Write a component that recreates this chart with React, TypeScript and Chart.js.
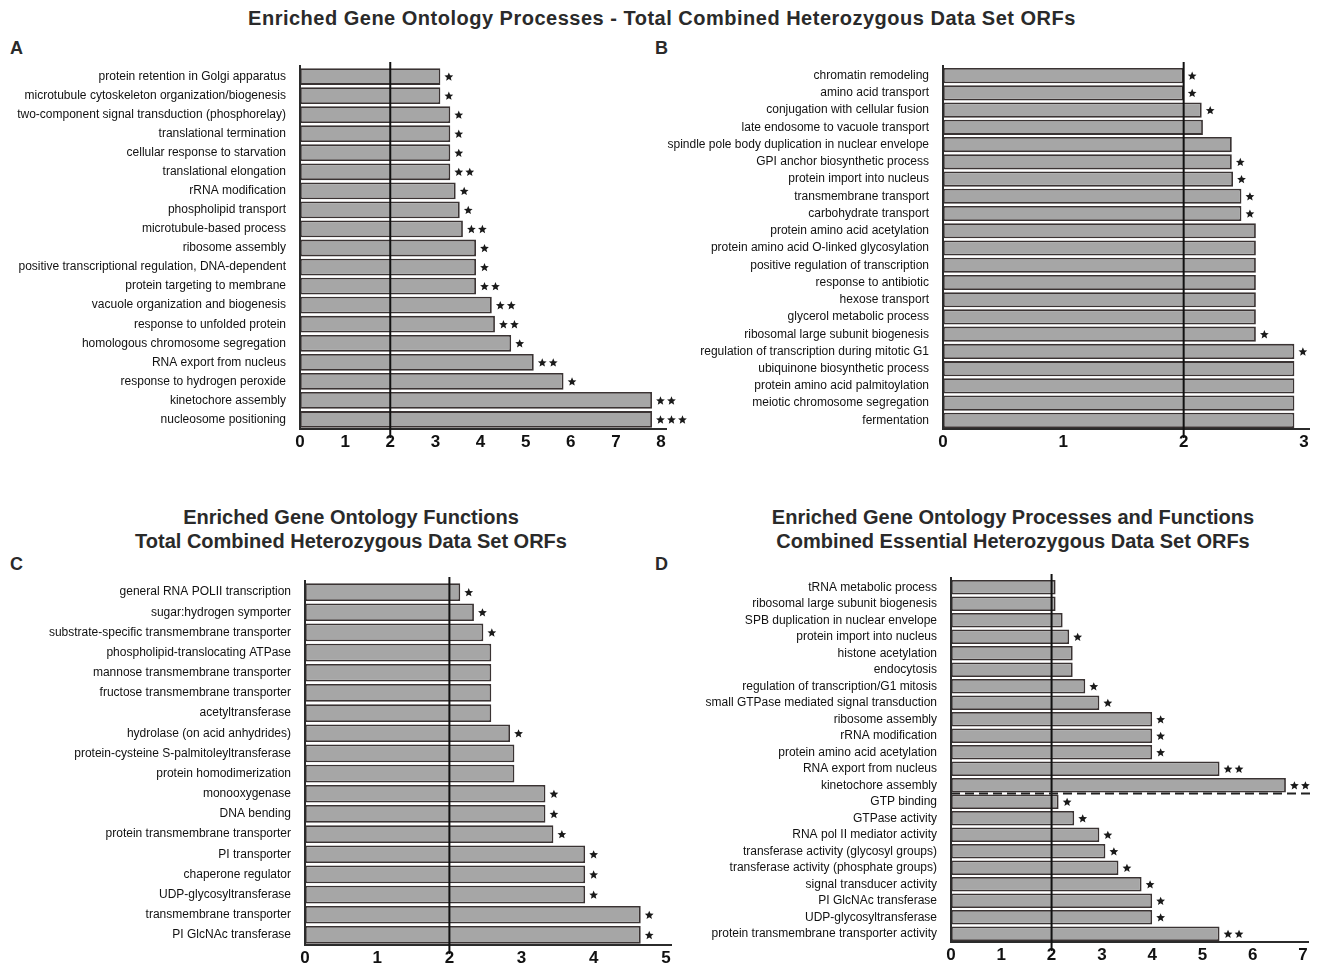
import React, { useEffect, useRef } from "react";
import { Chart, registerables } from "chart.js";

Chart.register(...registerables);

// ---------- Panel A ----------
const A_LABELS = [
  "protein retention in Golgi apparatus",
  "microtubule cytoskeleton organization/biogenesis",
  "two-component signal transduction (phosphorelay)",
  "translational termination",
  "cellular response to starvation",
  "translational elongation",
  "rRNA modification",
  "phospholipid transport",
  "microtubule-based process",
  "ribosome assembly",
  "positive transcriptional regulation, DNA-dependent",
  "protein targeting to membrane",
  "vacuole organization and biogenesis",
  "response to unfolded protein",
  "homologous chromosome segregation",
  "RNA export from nucleus",
  "response to hydrogen peroxide",
  "kinetochore assembly",
  "nucleosome positioning",
];
const A_VALUES = [3.11, 3.11, 3.33, 3.33, 3.33, 3.33, 3.45, 3.54, 3.61, 3.9, 3.9, 3.9, 4.25, 4.32, 4.68, 5.18, 5.84, 7.8, 7.8];
const A_STARS = [1, 1, 1, 1, 1, 2, 1, 1, 2, 1, 1, 2, 2, 2, 1, 2, 1, 2, 3];
const A_TICKS_MAX = 8;

// ---------- Panel B ----------
const B_LABELS = [
  "chromatin remodeling",
  "amino acid transport",
  "conjugation with cellular fusion",
  "late endosome to vacuole transport",
  "spindle pole body duplication in nuclear envelope",
  "GPI anchor biosynthetic process",
  "protein import into nucleus",
  "transmembrane transport",
  "carbohydrate transport",
  "protein amino acid acetylation",
  "protein amino acid O-linked glycosylation",
  "positive regulation of transcription",
  "response to antibiotic",
  "hexose transport",
  "glycerol metabolic process",
  "ribosomal large subunit biogenesis",
  "regulation of transcription during mitotic G1",
  "ubiquinone biosynthetic process",
  "protein amino acid palmitoylation",
  "meiotic chromosome segregation",
  "fermentation",
];
const B_VALUES = [2.0, 2.0, 2.15, 2.16, 2.4, 2.4, 2.41, 2.48, 2.48, 2.6, 2.6, 2.6, 2.6, 2.6, 2.6, 2.6, 2.92, 2.92, 2.92, 2.92, 2.92];
const B_STARS = [1, 1, 1, 0, 0, 1, 1, 1, 1, 0, 0, 0, 0, 0, 0, 1, 1, 0, 0, 0, 0];
const B_TICKS_MAX = 3;

// ---------- Panel C ----------
const C_LABELS = [
  "general RNA POLII transcription",
  "sugar:hydrogen symporter",
  "substrate-specific transmembrane transporter",
  "phospholipid-translocating ATPase",
  "mannose transmembrane transporter",
  "fructose transmembrane transporter",
  "acetyltransferase",
  "hydrolase (on acid anhydrides)",
  "protein-cysteine S-palmitoleyltransferase",
  "protein homodimerization",
  "monooxygenase",
  "DNA bending",
  "protein transmembrane transporter",
  "PI transporter",
  "chaperone regulator",
  "UDP-glycosyltransferase",
  "transmembrane transporter",
  "PI GlcNAc transferase",
];
const C_VALUES = [2.15, 2.34, 2.47, 2.58, 2.58, 2.58, 2.58, 2.84, 2.9, 2.9, 3.33, 3.33, 3.44, 3.88, 3.88, 3.88, 4.65, 4.65];
const C_STARS = [1, 1, 1, 0, 0, 0, 0, 1, 0, 0, 1, 1, 1, 1, 1, 1, 1, 1];
const C_TICKS_MAX = 5;

// ---------- Panel D ----------
const D_LABELS = [
  "tRNA metabolic process",
  "ribosomal large subunit biogenesis",
  "SPB duplication in nuclear envelope",
  "protein import into nucleus",
  "histone acetylation",
  "endocytosis",
  "regulation of transcription/G1 mitosis",
  "small GTPase mediated signal transduction",
  "ribosome assembly",
  "rRNA modification",
  "protein amino acid acetylation",
  "RNA export from nucleus",
  "kinetochore assembly",
  "GTP binding",
  "GTPase activity",
  "RNA pol II mediator activity",
  "transferase activity (glycosyl groups)",
  "transferase activity (phosphate groups)",
  "signal transducer activity",
  "PI GlcNAc transferase",
  "UDP-glycosyltransferase",
  "protein transmembrane transporter activity",
];
const D_VALUES = [2.08, 2.08, 2.22, 2.35, 2.42, 2.42, 2.67, 2.95, 4.0, 4.0, 4.0, 5.34, 6.66, 2.14, 2.45, 2.95, 3.07, 3.33, 3.79, 4.0, 4.0, 5.34];
const D_STARS = [0, 0, 0, 1, 0, 0, 1, 1, 1, 1, 1, 2, 2, 1, 1, 1, 1, 1, 1, 1, 1, 2];
const D_TICKS_MAX = 7;
const D_DIVIDER_AFTER = 12; // dashed separator between processes and functions

const THRESHOLD = 2;
const FONT = "'Liberation Sans', Arial, Helvetica, sans-serif";

type PanelProps = {
  labels: string[];
  values: number[];
  stars: number[];
  max: number;
  left: number;
  top: number;
  width: number;
  height: number;
  axisWidth: number;
  padTop: number;
  padRight: number;
  xAxisHeight: number;
  divider?: number;
};

function drawStar(ctx: CanvasRenderingContext2D, cx: number, cy: number, r: number) {
  const inner = r * 0.45;
  ctx.beginPath();
  for (let i = 0; i < 10; i++) {
    const rr = i % 2 === 0 ? r : inner;
    const a = -Math.PI / 2 + (i * Math.PI) / 5;
    const x = cx + rr * Math.cos(a);
    const y = cy + rr * Math.sin(a);
    if (i === 0) ctx.moveTo(x, y);
    else ctx.lineTo(x, y);
  }
  ctx.closePath();
  ctx.fill();
}

function Panel(p: PanelProps) {
  const ref = useRef<HTMLCanvasElement | null>(null);
  useEffect(() => {
    if (!ref.current) return;
    const overlay = {
      id: "overlay",
      afterDatasetsDraw(chart: any) {
        const ctx = chart.ctx;
        const area = chart.chartArea;
        const xs = chart.scales.x;
        const meta = chart.getDatasetMeta(0);
        ctx.save();
        // axes
        ctx.strokeStyle = "#2b2b2b";
        ctx.lineWidth = 2;
        ctx.beginPath();
        ctx.moveTo(area.left, area.top - 2);
        ctx.lineTo(area.left, area.bottom);
        ctx.lineTo(area.right + 6, area.bottom);
        ctx.stroke();
        // threshold line
        const tx = xs.getPixelForValue(THRESHOLD);
        ctx.strokeStyle = "#111";
        ctx.lineWidth = 2;
        ctx.beginPath();
        ctx.moveTo(tx, area.top - 5);
        ctx.lineTo(tx, area.bottom + 9);
        ctx.stroke();
        // divider
        if (p.divider !== undefined) {
          const e1 = meta.data[p.divider];
          const e2 = meta.data[p.divider + 1];
          const y = (e1.y + e2.y) / 2;
          ctx.setLineDash([9, 5]);
          ctx.strokeStyle = "#222";
          ctx.lineWidth = 2;
          ctx.beginPath();
          ctx.moveTo(area.left, y);
          ctx.lineTo(area.right + 8, y);
          ctx.stroke();
          ctx.setLineDash([]);
        }
        // stars
        ctx.fillStyle = "#1a1a1a";
        meta.data.forEach((el: any, i: number) => {
          const n = p.stars[i];
          for (let k = 0; k < n; k++) {
            drawStar(ctx, el.x + 8.5 + k * 11, el.y + 0.5, 4.6);
          }
        });
        ctx.restore();
      },
    };
    const chart = new Chart(ref.current, {
      type: "bar",
      data: {
        labels: p.labels,
        datasets: [
          {
            data: p.values,
            backgroundColor: "#a6a6a6",
            borderColor: "#3a3333",
            borderWidth: 1.8,
            borderSkipped: false,
            categoryPercentage: 1,
            barPercentage: 0.88,
          },
        ],
      },
      options: {
        indexAxis: "y",
        responsive: false,
        animation: false,
        devicePixelRatio: 1,
        layout: { padding: { top: p.padTop, right: p.padRight, bottom: 0, left: 0 } },
        plugins: { legend: { display: false }, tooltip: { enabled: false }, title: { display: false } },
        scales: {
          x: {
            type: "linear",
            min: 0,
            max: p.max,
            grid: { display: false, drawTicks: false },
            border: { display: false },
            ticks: {
              stepSize: 1,
              padding: 3,
              color: "#111",
              font: { family: FONT, size: 17, weight: "bold" },
            },
            afterFit(scale: any) {
              scale.height = p.xAxisHeight;
              scale.paddingLeft = 0;
              scale.paddingRight = 0;
            },
          },
          y: {
            grid: { display: false, drawTicks: false },
            border: { display: false },
            ticks: {
              padding: 14,
              autoSkip: false,
              color: "#111",
              font: { family: FONT, size: 12 },
            },
            afterFit(scale: any) {
              scale.width = p.axisWidth;
              scale.paddingTop = 0;
              scale.paddingBottom = 0;
            },
          },
        },
      },
      plugins: [overlay],
    } as any);
    return () => chart.destroy();
  }, []);
  return (
    <canvas
      ref={ref}
      width={p.width}
      height={p.height}
      style={{ position: "absolute", left: p.left, top: p.top, width: p.width, height: p.height }}
    />
  );
}

const textBase: React.CSSProperties = {
  position: "absolute",
  fontFamily: FONT,
  fontWeight: "bold",
  color: "#2a2a2a",
  whiteSpace: "nowrap",
  margin: 0,
};

export default function App() {
  return (
    <div style={{ position: "fixed", left: 0, top: 0, width: 1324, height: 967, background: "#fff", overflow: "hidden" }}>
      <div style={{ ...textBase, left: 0, width: 1324, top: 7, fontSize: 20, letterSpacing: 0.5, textAlign: "center" }}>
        Enriched Gene Ontology Processes - Total Combined Heterozygous Data Set ORFs
      </div>
      <div style={{ ...textBase, left: 10, top: 38, fontSize: 18 }}>A</div>
      <div style={{ ...textBase, left: 655, top: 38, fontSize: 18 }}>B</div>
      <div style={{ ...textBase, left: 10, top: 554, fontSize: 18 }}>C</div>
      <div style={{ ...textBase, left: 655, top: 554, fontSize: 18 }}>D</div>
      <div style={{ ...textBase, left: 0, width: 702, top: 505, fontSize: 20, textAlign: "center", lineHeight: "24px" }}>
        Enriched Gene Ontology Functions
        <br />
        Total Combined Heterozygous Data Set ORFs
      </div>
      <div style={{ ...textBase, left: 700, width: 626, top: 505, fontSize: 20, textAlign: "center", lineHeight: "24px" }}>
        Enriched Gene Ontology Processes and Functions
        <br />
        Combined Essential Heterozygous Data Set ORFs
      </div>
      <Panel labels={A_LABELS} values={A_VALUES} stars={A_STARS} max={A_TICKS_MAX}
        left={0} top={60} width={700} height={400} axisWidth={300} padTop={7} padRight={39} xAxisHeight={31} />
      <Panel labels={B_LABELS} values={B_VALUES} stars={B_STARS} max={B_TICKS_MAX}
        left={640} top={60} width={684} height={400} axisWidth={303} padTop={7} padRight={20} xAxisHeight={31} />
      <Panel labels={C_LABELS} values={C_VALUES} stars={C_STARS} max={C_TICKS_MAX}
        left={0} top={570} width={700} height={397} axisWidth={305} padTop={12} padRight={34} xAxisHeight={22} />
      <Panel labels={D_LABELS} values={D_VALUES} stars={D_STARS} max={D_TICKS_MAX}
        left={640} top={570} width={684} height={397} axisWidth={311} padTop={9} padRight={21} xAxisHeight={25}
        divider={D_DIVIDER_AFTER} />
    </div>
  );
}
